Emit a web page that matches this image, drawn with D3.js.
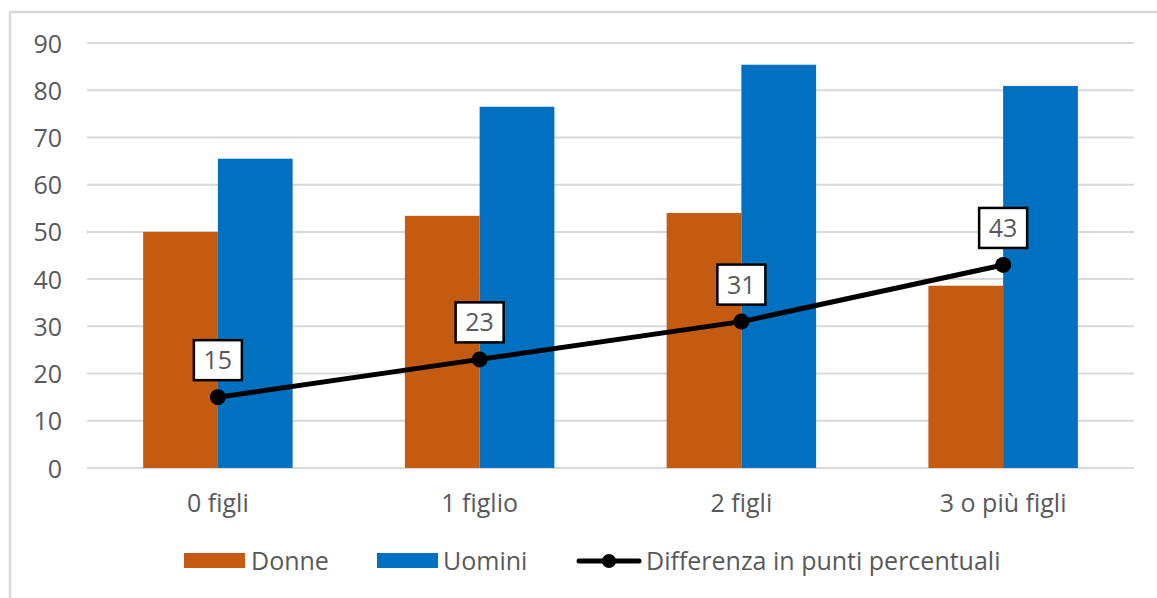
<!DOCTYPE html>
<html>
<head>
<meta charset="utf-8">
<script src="https://cdn.jsdelivr.net/npm/d3@7/dist/d3.min.js"></script>
<style>
  html, body { margin: 0; padding: 0; background: #fff; }
  svg { display: block; font-family: "Open Sans", Lato, sans-serif; }
</style>
</head>
<body>
<svg id="chart" width="1157" height="598"></svg>
<script>
// Occupazione per numero di figli
const categories = ["0 figli", "1 figlio", "2 figli", "3 o più figli"];
const donne = [50.0, 53.4, 54.0, 38.6];
const uomini = [65.5, 76.5, 85.4, 80.9];
const differenza = [15, 23, 31, 43];
const yTicks = [0, 10, 20, 30, 40, 50, 60, 70, 80, 90];
const seriesNames = ["Donne", "Uomini", "Differenza in punti percentuali"];

const colors = { donne: "#C55A11", uomini: "#0070C0", line: "#000000", grid: "#D9D9D9", text: "#595959" };
const FONT = "'Open Sans', Lato, sans-serif";
const FS = 25;

const svg = d3.select("#chart");
const W = 1157, H = 598;
const plot = { left: 87, right: 1134, top: 43, bottom: 468 };

// chart frame (top and left edges visible)
svg.append("path")
  .attr("d", `M10,${H} L10,12 L${W},12`)
  .attr("fill", "none").attr("stroke", "#D9D9D9").attr("stroke-width", 2.5);

const x = d3.scaleBand().domain(categories).range([plot.left, plot.right]).paddingInner(0).paddingOuter(0);
const barW = x.bandwidth() * 0.2855;
const y = d3.scaleLinear().domain([0, 90]).range([plot.bottom, plot.top]);

// gridlines
svg.append("g").selectAll("line").data(yTicks).join("line")
  .attr("x1", plot.left).attr("x2", plot.right)
  .attr("y1", d => y(d)).attr("y2", d => y(d))
  .attr("stroke", colors.grid).attr("stroke-width", 2);

// y axis labels
const yAxis = d3.axisLeft(y).tickValues(yTicks).tickSize(0).tickPadding(0);
const gy = svg.append("g").attr("transform", `translate(62,0)`).call(yAxis);
gy.select(".domain").remove();
gy.selectAll("text").attr("font-size", FS).attr("fill", colors.text)
  .attr("font-family", FONT).attr("dy", "0.36em");

// bars
const cx = c => x(c) + x.bandwidth() / 2;
svg.append("g").selectAll("rect").data(categories).join("rect")
  .attr("x", c => cx(c) - barW).attr("width", barW)
  .attr("y", (c, i) => y(donne[i])).attr("height", (c, i) => y(0) - y(donne[i]))
  .attr("fill", colors.donne);
svg.append("g").selectAll("rect").data(categories).join("rect")
  .attr("x", c => cx(c)).attr("width", barW)
  .attr("y", (c, i) => y(uomini[i])).attr("height", (c, i) => y(0) - y(uomini[i]))
  .attr("fill", colors.uomini);

// x axis labels
const xAxis = d3.axisBottom(x).tickSize(0).tickPadding(0);
const gx = svg.append("g").attr("transform", `translate(0,${plot.bottom + 35})`).call(xAxis);
gx.select(".domain").remove();
gx.selectAll("text").attr("font-size", FS).attr("fill", colors.text)
  .attr("font-family", FONT).attr("dy", "0.36em");

// difference line
const line = d3.line().x((d, i) => cx(categories[i])).y(d => y(d));
svg.append("path").datum(differenza).attr("d", line)
  .attr("fill", "none").attr("stroke", colors.line).attr("stroke-width", 5).attr("stroke-linejoin", "round");
svg.append("g").selectAll("circle").data(differenza).join("circle")
  .attr("cx", (d, i) => cx(categories[i])).attr("cy", d => y(d)).attr("r", 8)
  .attr("fill", colors.line);

// value labels
const lab = svg.append("g").selectAll("g").data(differenza).join("g")
  .attr("transform", (d, i) => `translate(${cx(categories[i])},${y(d) - 37})`);
lab.append("rect").attr("x", -24).attr("y", -20).attr("width", 48).attr("height", 40)
  .attr("fill", "#fff").attr("stroke", "#000").attr("stroke-width", 2.5);
lab.append("text").text(d => d).attr("text-anchor", "middle").attr("dy", "0.36em")
  .attr("font-size", FS).attr("fill", colors.text);

// legend
const lg = svg.append("g").attr("transform", "translate(0,561)");
lg.append("rect").attr("x", 184).attr("y", -8).attr("width", 61).attr("height", 15).attr("fill", colors.donne);
lg.append("text").attr("x", 251).attr("dy", "0.36em").text(seriesNames[0]).attr("font-size", FS).attr("fill", colors.text);
lg.append("rect").attr("x", 377).attr("y", -8).attr("width", 61).attr("height", 15).attr("fill", colors.uomini);
lg.append("text").attr("x", 443).attr("dy", "0.36em").text(seriesNames[1]).attr("font-size", FS).attr("fill", colors.text);
lg.append("line").attr("x1", 579).attr("x2", 639).attr("y1", 0).attr("y2", 0)
  .attr("stroke", colors.line).attr("stroke-width", 5).attr("stroke-linecap", "round");
lg.append("circle").attr("cx", 609).attr("cy", 0).attr("r", 7).attr("fill", colors.line);
lg.append("text").attr("x", 646).attr("dy", "0.36em").text(seriesNames[2]).attr("font-size", FS).attr("fill", colors.text);
</script>
</body>
</html>
